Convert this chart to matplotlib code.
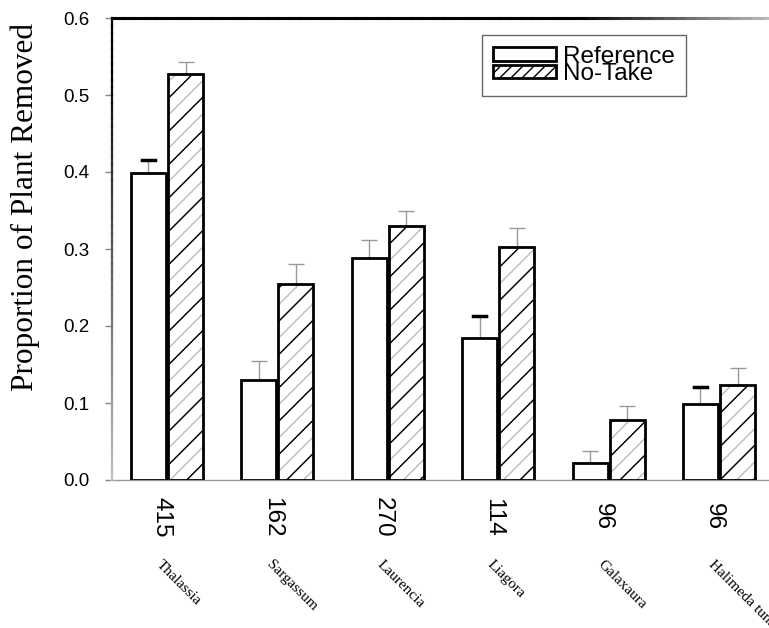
import matplotlib
matplotlib.use("Agg")
import matplotlib.pyplot as plt
import numpy as np
from matplotlib.patches import Patch
from matplotlib.collections import LineCollection

species = ["Thalassia", "Sargassum", "Laurencia", "Liagora", "Galaxaura", "Halimeda tuna"]
counts = ["415", "162", "270", "114", "96", "96"]
reference = [0.399, 0.130, 0.288, 0.184, 0.022, 0.099]
reference_se = [0.017, 0.025, 0.024, 0.029, 0.016, 0.022]
notake = [0.527, 0.255, 0.330, 0.303, 0.078, 0.123]
notake_se = [0.016, 0.026, 0.019, 0.024, 0.018, 0.022]
yticks = [0.0, 0.1, 0.2, 0.3, 0.4, 0.5, 0.6]

fig = plt.figure(figsize=(7.69, 6.28), dpi=100)
ax = fig.add_axes([112 / 769, 1 - 480 / 628, 1 - 112 / 769, (480 - 18) / 628])

x = np.arange(len(species))
w = 0.317
off = 0.168

# error bars (upper only), drawn under the bars
ax.errorbar(x - off, reference, yerr=[np.zeros(6), reference_se], fmt="none",
            ecolor="#999999", elinewidth=1, capsize=6, capthick=1, zorder=1)
ax.errorbar(x + off, notake, yerr=[np.zeros(6), notake_se], fmt="none",
            ecolor="#999999", elinewidth=1, capsize=6, capthick=1, zorder=1)
# a few of the reference caps are heavy black in the original
for i in [0, 3, 5]:
    top = reference[i] + reference_se[i]
    ax.plot([x[i] - off - 0.06, x[i] - off + 0.06], [top, top], color="black", lw=2.5, zorder=2)

ax.bar(x - off, reference, w, color="white", edgecolor="black", linewidth=2, zorder=3)

ax.bar(x + off, notake, w, color="white", edgecolor="#bbbbbb", hatch="//",
       linewidth=0, zorder=3)
nt_dark = ax.bar(x + off, notake, w, fill=False, edgecolor="black", hatch="/",
                 linewidth=0, zorder=3.5)
for p in nt_dark:
    if hasattr(p, "set_hatch_linewidth"):
        p.set_hatch_linewidth(1.0)
ax.bar(x + off, notake, w, fill=False, edgecolor="black", linewidth=2, zorder=4)

ax.set_xlim(-0.498, 5.453)
ax.set_ylim(0, 0.6)
ax.set_yticks(yticks)
ax.set_yticklabels(["%.1f" % t for t in yticks], family="Liberation Sans", fontsize=13.5)
ax.tick_params(axis="y", direction="out", length=5, width=1, color="#888888", pad=11)
ax.set_xticks([])

for s in ["top", "left", "right"]:
    ax.spines[s].set_visible(False)
ax.spines["bottom"].set_color("#999999")
ax.spines["bottom"].set_linewidth(1)

# fading top and left frame lines
n = 60
tx = np.linspace(0, 1.01, n + 1)
segs = [[(tx[k], 1), (tx[k + 1], 1)] for k in range(n)]
fade = np.clip((tx[:-1] - 0.7) / 0.32, 0, 1)
cols = [(0.8 * f, 0.8 * f, 0.8 * f) for f in fade]
ax.add_collection(LineCollection(segs, colors=cols, linewidths=2.2, capstyle="projecting",
                                 transform=ax.transAxes, clip_on=False, zorder=5))
ly = np.linspace(0, 1, n + 1)
segs = [[(0, ly[k]), (0, ly[k + 1])] for k in range(n)]
fade = np.clip((0.9 - ly[:-1]) / 0.9, 0, 1)
cols = [(0.75 * f, 0.75 * f, 0.75 * f) for f in fade]
ax.add_collection(LineCollection(segs, colors=cols, linewidths=1.6, capstyle="projecting",
                                 transform=ax.transAxes, clip_on=False, zorder=5))

tr = ax.get_xaxis_transform()
for i in range(len(species)):
    ax.text(x[i] - 0.05, -0.08, counts[i], transform=tr, rotation=-90,
            ha="center", va="center", family="Liberation Sans", fontsize=17.5)
    ax.text(x[i] - 0.04, -0.168, species[i], transform=tr, rotation=-45,
            rotation_mode="anchor", ha="left", va="top",
            family="Liberation Serif", fontsize=11, clip_on=False)

fig.text(25 / 769, 1 - 207 / 628, "Proportion of Plant Removed", rotation=90,
         ha="center", va="center", family="Liberation Serif", fontsize=22.5)

handles = [Patch(facecolor="white", edgecolor="black", linewidth=2),
           Patch(facecolor="white", edgecolor="black", linewidth=2, hatch="///")]
leg = ax.legend(handles, ["Reference", "No-Take"], loc="upper left",
                bbox_to_anchor=(482 / 769, 1 - 35 / 628), bbox_transform=fig.transFigure,
                borderaxespad=0, fancybox=False, framealpha=1, edgecolor="#666666",
                prop={"family": "Liberation Sans", "size": 17.5},
                labelspacing=-0.2, handlelength=2.6, handleheight=0.5,
                handletextpad=0.3, borderpad=0.45)
leg.get_frame().set_linewidth(1)

fig.savefig("out.png", dpi=100)
